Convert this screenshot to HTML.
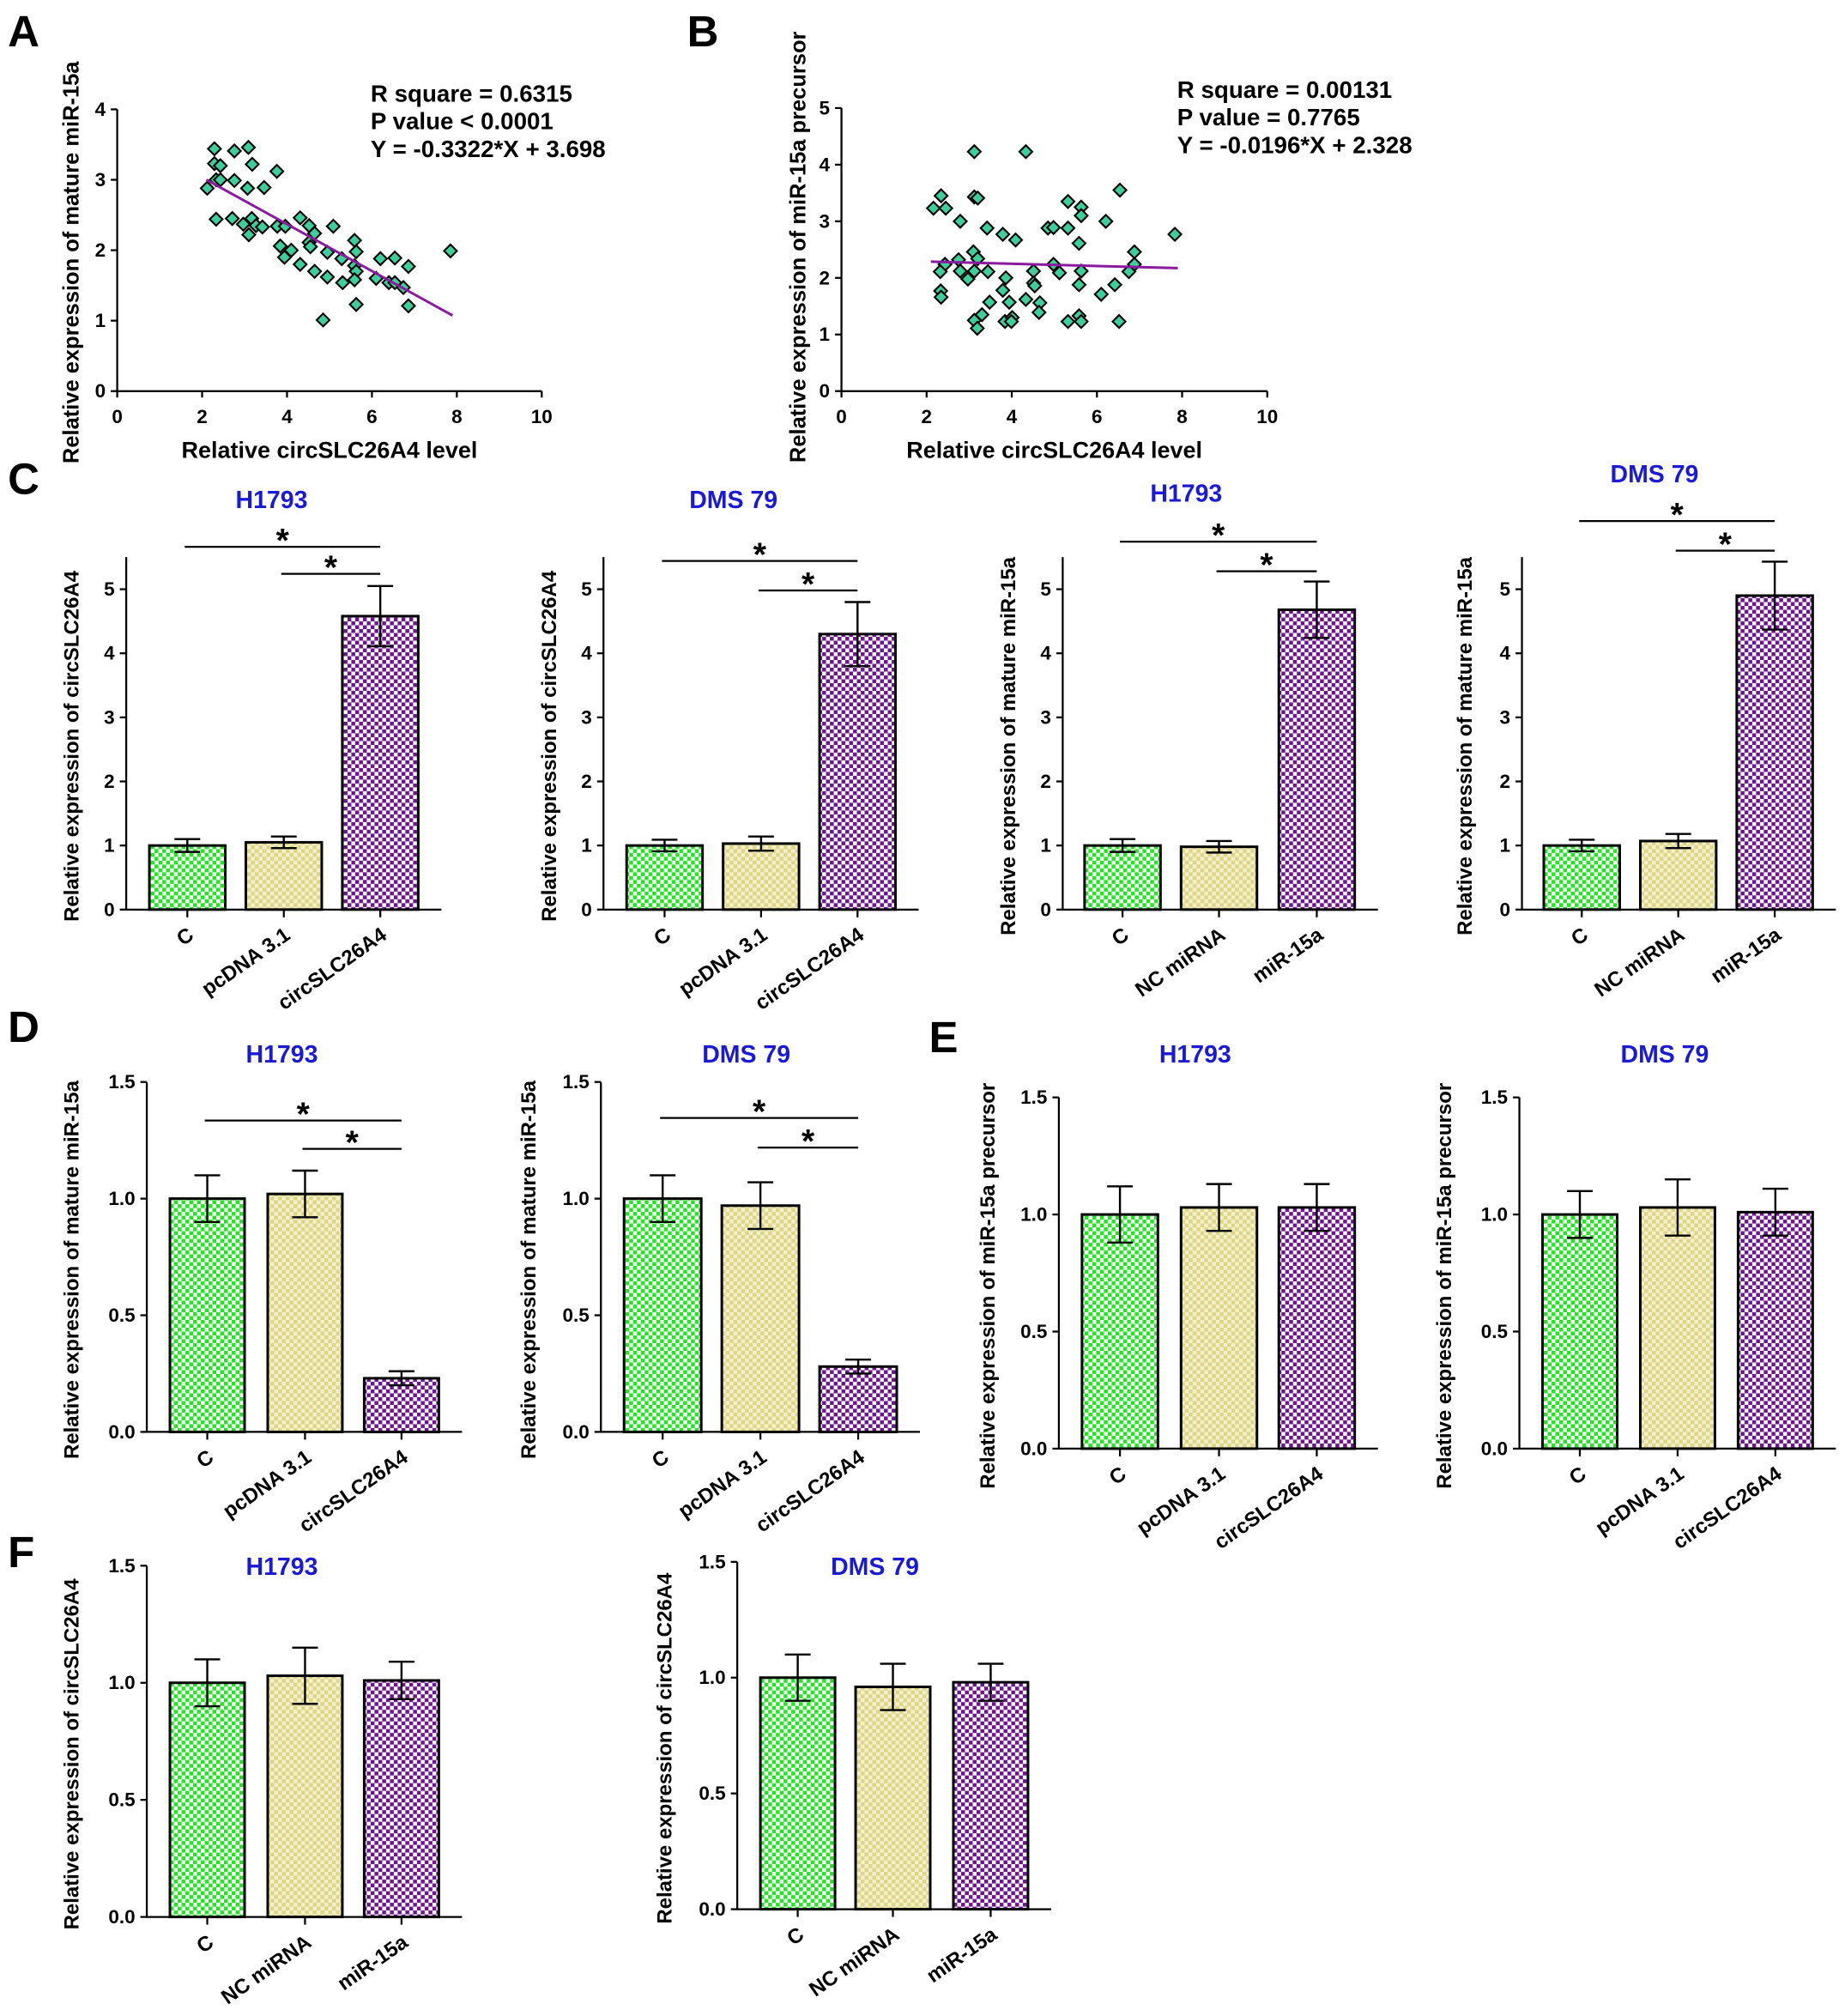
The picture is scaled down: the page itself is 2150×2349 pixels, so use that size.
<!DOCTYPE html>
<html><head><meta charset="utf-8"><style>
html,body{margin:0;padding:0;background:#fff}
svg{display:block}
text{font-family:"Liberation Sans",Arial,sans-serif;font-weight:bold}
</style></head><body>
<svg id="fig" xmlns="http://www.w3.org/2000/svg" width="2150" height="2349" viewBox="0 0 1434 1567">
<defs>
<pattern id="pg" width="6" height="6" patternUnits="userSpaceOnUse"><rect width="6" height="6" fill="#fff"/><rect width="3" height="3" fill="#22e622"/><rect x="3" y="3" width="3" height="3" fill="#22e622"/></pattern>
<pattern id="py" width="6" height="6" patternUnits="userSpaceOnUse"><rect width="6" height="6" fill="#f4f0c8"/><rect width="3" height="3" fill="#ddd58a"/><rect x="3" y="3" width="3" height="3" fill="#ddd58a"/></pattern>
<pattern id="pp" width="6" height="6" patternUnits="userSpaceOnUse"><rect width="6" height="6" fill="#fff"/><rect width="3" height="3" fill="#6e1490"/><rect x="3" y="3" width="3" height="3" fill="#6e1490"/></pattern>
</defs>
<g id="root"></g>
</svg>
<script>
// Scatter A data
const aX=[2.29,2.76,3.09,2.29,2.43,3.18,3.76,2.12,2.33,2.43,2.76,3.07,3.46,2.33,2.71,2.97,3.17,3.27,3.42,3.10,3.77,3.96,4.31,4.52,4.65,5.09,4.52,4.55,3.84,4.10,3.94,4.31,4.65,4.95,4.95,5.29,5.31,5.59,5.63,5.59,5.63,5.59,6.10,6.20,6.54,6.86,6.40,6.54,6.74,5.63,6.86,4.85,7.85];
const aY=[3.44,3.41,3.46,3.23,3.20,3.22,3.12,2.88,3.00,3.00,2.99,2.88,2.89,2.44,2.45,2.37,2.45,2.35,2.33,2.22,2.34,2.34,2.46,2.35,2.24,2.34,2.11,2.05,2.06,2.00,1.90,1.80,1.70,1.62,1.97,1.88,1.54,2.14,1.98,1.78,1.70,1.58,1.60,1.88,1.89,1.77,1.54,1.54,1.47,1.23,1.21,1.01,1.99];
const aFit=[-0.3322,3.698];
// Scatter B data
const bX=[3.12,4.33,2.34,3.12,3.20,2.16,2.45,2.79,3.42,3.79,4.09,4.85,4.98,5.32,5.32,5.63,5.63,6.21,6.54,7.83,5.58,6.88,6.88,6.75,3.10,3.20,2.75,2.43,2.32,2.79,3.12,2.97,3.44,3.86,4.51,4.98,5.12,5.63,4.51,4.54,3.79,5.58,6.42,6.10,2.33,2.34,3.48,3.94,4.33,4.66,4.64,3.30,3.12,3.19,3.84,4.01,3.99,5.32,5.58,5.63,6.52];
const bY=[4.23,4.23,3.45,3.43,3.41,3.23,3.23,3.00,2.88,2.77,2.67,2.88,2.89,2.88,3.35,3.25,3.10,3.00,3.55,2.77,2.61,2.46,2.24,2.11,2.46,2.34,2.32,2.24,2.11,2.12,2.12,1.98,2.11,2.00,2.12,2.24,2.09,2.12,1.91,1.86,1.78,1.88,1.88,1.71,1.77,1.66,1.57,1.57,1.62,1.56,1.39,1.35,1.25,1.11,1.23,1.30,1.23,1.23,1.33,1.23,1.23];
const bFit=[-0.0196,2.328];
// Bar data
const catsOE=["C","pcDNA 3.1","circSLC26A4"];
const catsMI=["C","NC miRNA","miR-15a"];
const c1Vals=[1.0,1.05,4.58], c1Err=[0.1,0.09,0.47];
const c2Vals=[1.0,1.03,4.30], c2Err=[0.09,0.11,0.5];
const c3Vals=[1.0,0.98,4.68], c3Err=[0.1,0.09,0.44];
const c4Vals=[1.0,1.07,4.90], c4Err=[0.09,0.11,0.53];
const d1Vals=[1.0,1.02,0.23], d1Err=[0.1,0.1,0.03];
const d2Vals=[1.0,0.97,0.28], d2Err=[0.1,0.1,0.03];
const e1Vals=[1.0,1.03,1.03], e1Err=[0.12,0.1,0.1];
const e2Vals=[1.0,1.03,1.01], e2Err=[0.1,0.12,0.1];
const f1Vals=[1.0,1.03,1.01], f1Err=[0.1,0.12,0.08];
const f2Vals=[1.0,0.96,0.98], f2Err=[0.1,0.1,0.08];
const ticks5=[0,1,2,3,4,5], ticks15=[0,0.5,1.0,1.5];

const NS="http://www.w3.org/2000/svg";
const root=document.getElementById('root');
function el(tag,attrs,parent,txt){const e=document.createElementNS(NS,tag);for(const k in attrs)e.setAttribute(k,attrs[k]);if(txt!==undefined)e.textContent=txt;(parent||root).appendChild(e);return e;}
function fmt(v,d){return d?v.toFixed(1):String(v);}

function letter(t,x,y){const e=el('text',{x:x,y:y,'font-size':34},root,t);

}
letter('A',6,36);letter('B',534,36);letter('C',6,384);letter('D',6,810);letter('E',722,818);letter('F',6,1218);

function scatter(o){
 const g=el('g',{});
 
 
 const sx=v=>o.x0+(o.x1-o.x0)*v/10, sy=v=>o.y0-(o.y0-o.y1)*v/o.ymax;
 const ax=el('path',{d:`M${o.x0},${sy(o.ymax)}V${o.y0}H${o.x1}`,stroke:'#000','stroke-width':1.5,fill:'none'},g);
 
 
 for(let v=0;v<=10;v+=2){el('line',{x1:sx(v),x2:sx(v),y1:o.y0,y2:o.y0+5,stroke:'#000','stroke-width':1.5},g);
  const t=el('text',{x:sx(v),y:o.y0+25,'font-size':15,'text-anchor':'middle','font-weight':'normal'},g,v);
  
  }
 for(let v=0;v<=o.ymax;v++){el('line',{x1:o.x0-5,x2:o.x0,y1:sy(v),y2:sy(v),stroke:'#000','stroke-width':1.5},g);
  const t=el('text',{x:o.x0-9,y:sy(v)+5,'font-size':15,'text-anchor':'end','font-weight':'normal'},g,v);
  
  }
 const xl=el('text',{x:(o.x0+o.x1)/2,y:o.y0+52,'font-size':18,'text-anchor':'middle'},g,'Relative circSLC26A4 level');
 
 
 const yl=el('text',{x:0,y:0,'font-size':17,'text-anchor':'middle',transform:`translate(${o.ylx},${o.yly}) rotate(-90)`},g,o.ylabel);
 
 
 o.xs.forEach((xv,i)=>{const cx=sx(xv),cy=sy(o.ys[i]);
  const p=el('path',{d:`M${cx},${cy-5}L${cx+5},${cy}L${cx},${cy+5}L${cx-5},${cy}Z`,fill:'#3ccf9c',stroke:'#000','stroke-width':1.4},g);
  
  });
 const fl=el('line',{x1:sx(2.1),y1:sy(o.fit[0]*2.1+o.fit[1]),x2:sx(7.9),y2:sy(o.fit[0]*7.9+o.fit[1]),stroke:'#8a1a9e','stroke-width':2},g);
 
 
 o.stats.forEach((s,i)=>{const t=el('text',{x:o.sxp,y:o.syp+i*21.5,'font-size':18.5},g,s);
  
  });
}
scatter({name:'scatter-a',x0:91,x1:421,y0:304,y1:85,ymax:4,xs:aX,ys:aY,fit:aFit,ylx:61,yly:204,ylabel:'Relative expression of mature miR-15a',sxp:288,syp:79,stats:['R square = 0.6315','P value < 0.0001','Y = -0.3322*X + 3.698']});
scatter({name:'scatter-b',x0:654,x1:985,y0:304,y1:84,ymax:5,xs:bX,ys:bY,fit:bFit,ylx:626,yly:192,ylabel:'Relative expression of miR-15a precursor',sxp:915,syp:76,stats:['R square = 0.00131','P value = 0.7765','Y = -0.0196*X + 2.328']});

const fills=['url(#pg)','url(#py)','url(#pp)'];
function bars(o){
 const g=el('g',{});
 
 
 const ymax=o.ticks[o.ticks.length-1];
 const sy=v=>o.y0-(o.y0-o.yTop)*v/ymax;
 const top=sy(ymax)-(o.extra||0);
 const ax=el('path',{d:`M${o.ax},${top}V${o.y0}H${o.bx[2]+o.bw+18}`,stroke:'#000','stroke-width':1.5,fill:'none'},g);
 
 
 o.ticks.forEach(v=>{el('line',{x1:o.ax-5,x2:o.ax,y1:sy(v),y2:sy(v),stroke:'#000','stroke-width':1.5},g);
  const t=el('text',{x:o.ax-9,y:sy(v)+5,'font-size':15,'text-anchor':'end','font-weight':'normal'},g,fmt(v,o.dec));
  
  });
 const tt=el('text',{x:o.tx,y:o.ty,'font-size':19,'text-anchor':'middle',fill:'#1a1ad6'},g,o.title);
 
 
 const yl=el('text',{x:0,y:0,'font-size':16,'text-anchor':'middle',transform:`translate(${o.ylx},${(top+o.y0)/2+10}) rotate(-90)`},g,o.ylabel);
 
 
 o.vals.forEach((v,i)=>{const x=o.bx[i],cx=x+o.bw/2;
  const r=el('rect',{x:x,y:sy(v),width:o.bw,height:o.y0-sy(v),fill:fills[i],stroke:'#000','stroke-width':2},g);
  
  
  const e=o.err[i];
  const eb=el('path',{d:`M${cx},${sy(v+e)}V${sy(v-e)}M${cx-10},${sy(v+e)}H${cx+10}M${cx-10},${sy(v-e)}H${cx+10}`,stroke:'#000','stroke-width':1.6,fill:'none'},g);
  
  
  el('line',{x1:cx,x2:cx,y1:o.y0,y2:o.y0+6,stroke:'#000','stroke-width':1.5},g);
  const t=el('text',{x:0,y:0,'font-size':16,'text-anchor':'end',transform:`translate(${cx+6},${o.y0+22}) rotate(-35)`},g,o.cats[i]);
  
  });
 (o.sig||[]).forEach(s=>{const x1=o.bx[s[0]]+o.bw/2-2,x2=o.bx[s[1]]+o.bw/2;
  const l=el('line',{x1:x1,x2:x2,y1:s[2],y2:s[2],stroke:'#000','stroke-width':1.5},g);
  
  
  const t=el('text',{x:(x1+x2)/2,y:s[2]+4,'font-size':26,'text-anchor':'middle'},g,'*');
  
  });
}
const L1='Relative expression of circSLC26A4',L2='Relative expression of mature miR-15a',L3='Relative expression of miR-15a precursor';
bars({name:'chart-c-h1793',ax:98,y0:707,yTop:458,ticks:ticks5,extra:25,bx:[116,191,266],bw:59,vals:c1Vals,err:c1Err,cats:catsOE,title:'H1793',tx:211,ty:395,ylx:61,ylabel:L1,sig:[[0,2,425],[1,2,446]]});
bars({name:'chart-c-dms79',ax:469,y0:707,yTop:458,ticks:ticks5,extra:25,bx:[487,562,637],bw:59,vals:c2Vals,err:c2Err,cats:catsOE,title:'DMS 79',tx:570,ty:395,ylx:432,ylabel:L1,sig:[[0,2,436],[1,2,459]]});
bars({name:'chart-c-h1793-mir',ax:826,y0:707,yTop:458,ticks:ticks5,extra:25,bx:[843,918,994],bw:59,vals:c3Vals,err:c3Err,cats:catsMI,title:'H1793',tx:922,ty:390,ylx:789,ylabel:L2,sig:[[0,2,421],[1,2,444]]});
bars({name:'chart-c-dms79-mir',ax:1183,y0:707,yTop:458,ticks:ticks5,extra:25,bx:[1200,1275,1350],bw:59,vals:c4Vals,err:c4Err,cats:catsMI,title:'DMS 79',tx:1286,ty:375,ylx:1144,ylabel:L2,sig:[[0,2,405],[1,2,428]]});
bars({name:'chart-d-h1793',ax:114,y0:1113,yTop:841,ticks:ticks15,dec:1,bx:[132,208,283],bw:58,vals:d1Vals,err:d1Err,cats:catsOE,title:'H1793',tx:219,ty:826,ylx:61,ylabel:L2,sig:[[0,2,871],[1,2,893]]});
bars({name:'chart-d-dms79',ax:467,y0:1113,yTop:841,ticks:ticks15,dec:1,bx:[485,561,637],bw:60,vals:d2Vals,err:d2Err,cats:catsOE,title:'DMS 79',tx:580,ty:826,ylx:416,ylabel:L2,sig:[[0,2,869],[1,2,892]]});
bars({name:'chart-e-h1793',ax:823,y0:1126,yTop:853,ticks:ticks15,dec:1,bx:[841,918,994],bw:59,vals:e1Vals,err:e1Err,cats:catsOE,title:'H1793',tx:929,ty:826,ylx:773,ylabel:L3});
bars({name:'chart-e-dms79',ax:1181,y0:1126,yTop:853,ticks:ticks15,dec:1,bx:[1199,1275,1351],bw:58,vals:e2Vals,err:e2Err,cats:catsOE,title:'DMS 79',tx:1294,ty:826,ylx:1128,ylabel:L3});
bars({name:'chart-f-h1793',ax:114,y0:1490,yTop:1217,ticks:ticks15,dec:1,bx:[132,208,283],bw:58,vals:f1Vals,err:f1Err,cats:catsMI,title:'H1793',tx:219,ty:1224,ylx:61,ylabel:L1});
bars({name:'chart-f-dms79',ax:573,y0:1484,yTop:1214,ticks:ticks15,dec:1,bx:[591,665,741],bw:58,vals:f2Vals,err:f2Err,cats:catsMI,title:'DMS 79',tx:680,ty:1224,ylx:522,ylabel:L1});
</script>
</body></html>
